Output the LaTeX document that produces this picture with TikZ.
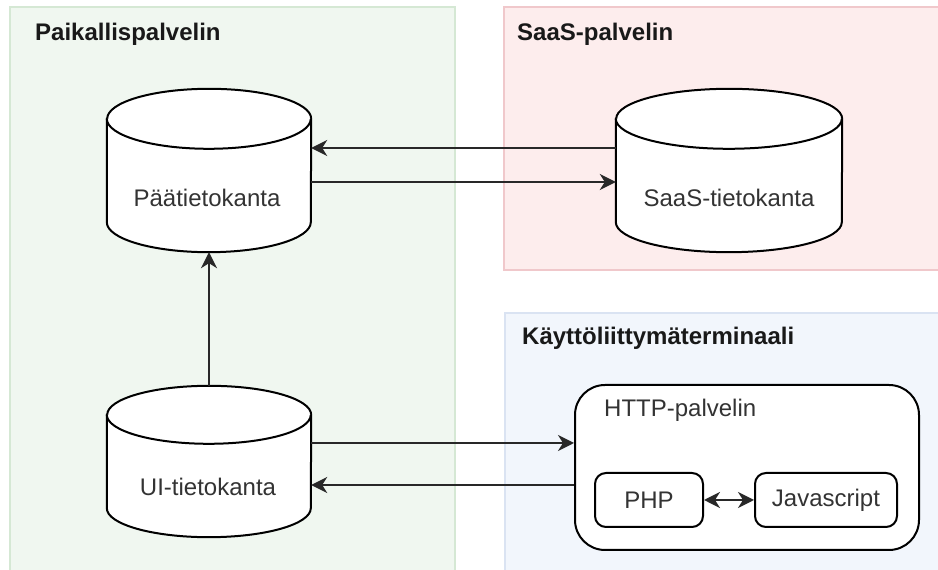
\documentclass[tikz,border=0pt]{standalone}
\usepackage{fontspec}
\setmainfont{Liberation Sans}
\usetikzlibrary{arrows.meta,calc}

\definecolor{grpfillA}{RGB}{240,247,240}
\definecolor{grplineA}{RGB}{213,232,212}
\definecolor{grpfillB}{RGB}{253,237,237}
\definecolor{grplineB}{RGB}{240,200,203}
\definecolor{grpfillC}{RGB}{242,246,252}
\definecolor{grplineC}{RGB}{218,227,242}
\definecolor{labelgray}{RGB}{51,51,51}
\definecolor{wiregray}{RGB}{40,40,40}

% cylinder outline drawn around a named rectangle node: #1 name, #2 x radius, #3 y radius
\newcommand\drawcyl[3]{%
  \filldraw[cylline] ([yshift=-#3]#1.north west) -- ([yshift=#3]#1.south west)
    arc[start angle=180,end angle=360,x radius=#2,y radius=#3]
    -- ([yshift=-#3]#1.north east)
    arc[start angle=0,end angle=180,x radius=#2,y radius=#3] -- cycle;
  \draw[cylline] ([yshift=-#3]#1.north west)
    arc[start angle=180,end angle=360,x radius=#2,y radius=#3];
}

\begin{document}
\begin{tikzpicture}[x=1pt,y=1pt,
  every node/.style={font=\fontsize{24}{28}\selectfont},
  grouptitle/.style={anchor=base west,inner sep=0pt,text=black!90,font=\fontsize{24}{28}\selectfont\bfseries},
  dbbox/.style={draw=none,inner sep=0pt,rectangle},
  cylline/.style={draw=black,fill=white,line width=2pt},
  dblabel/.style={anchor=base,inner sep=0pt,text=labelgray},
  roundbox/.style={draw=black,fill=white,line width=2pt,inner sep=0pt},
  tip/.style={Stealth[length=16pt,width=16pt,inset=5pt]},
  wire/.style={draw=wiregray,line width=2pt,-{Stealth[length=16pt,width=16pt,inset=5pt]}},
  wire2/.style={draw=wiregray,line width=2pt,{Stealth[length=16pt,width=16pt,inset=5pt]}-{Stealth[length=16pt,width=16pt,inset=5pt]}}
]
\clip (0,0) rectangle (938,570);
\fill[white] (0,0) rectangle (938,570);

% group containers
\filldraw[fill=grpfillA,draw=grplineA,line width=2pt] (10,-20) rectangle (455,563);
\filldraw[fill=grpfillB,draw=grplineB,line width=2pt] (504,300) rectangle (960,563);
\filldraw[fill=grpfillC,draw=grplineC,line width=2pt] (505,-20) rectangle (960,257);

\node[grouptitle] (tlocal) at (35,529) {Paikallispalvelin};
\node[grouptitle] (tsaas) at (517,529) {SaaS-palvelin};
\node[grouptitle] (tterm) at (522,225) {Käyttöliittymäterminaali};

% database bodies
\node[dbbox,minimum width=204pt,minimum height=163pt] (main) at (209,399.5) {};
\node[dbbox,minimum width=226pt,minimum height=163pt] (saas) at (729,399.5) {};
\node[dbbox,minimum width=204pt,minimum height=151pt] (ui) at (209,108.5) {};

\drawcyl{main}{102pt}{30pt}
\drawcyl{saas}{113pt}{30pt}
\drawcyl{ui}{102pt}{29pt}

\node[dblabel] (mainlbl) at (207,363) {Päätietokanta};
\node[dblabel] (saaslbl) at (729,363) {SaaS-tietokanta};
\node[dblabel] (uilbl) at (208,74) {UI-tietokanta};

% HTTP server with its two components
\node[roundbox,rounded corners=30pt,minimum width=344pt,minimum height=165pt] (http) at (747,102.5) {};
\node[anchor=base west,inner sep=0pt,text=labelgray] (httplbl) at (604,153) {HTTP-palvelin};
\node[roundbox,rounded corners=11pt,minimum width=108pt,minimum height=54pt,text=labelgray] (php) at (649,70) {PHP};
\node[roundbox,rounded corners=11pt,minimum width=142pt,minimum height=54pt,text=labelgray] (js) at (826,70) {Javascript};

% connectors
\draw[wire] (saas.west |- 0,422) -- (main.east |- 0,422);
\draw[wire] (main.east |- 0,388) -- (saas.west |- 0,388);
\draw[wire] (ui.north) -- (main.south);
\draw[wire] (ui.east |- 0,127) -- (http.west |- 0,127);
\draw[wire] (http.west |- 0,85) -- (ui.east |- 0,85);
\draw[wire2] (php.east) -- (js.west);
\end{tikzpicture}
\end{document}
